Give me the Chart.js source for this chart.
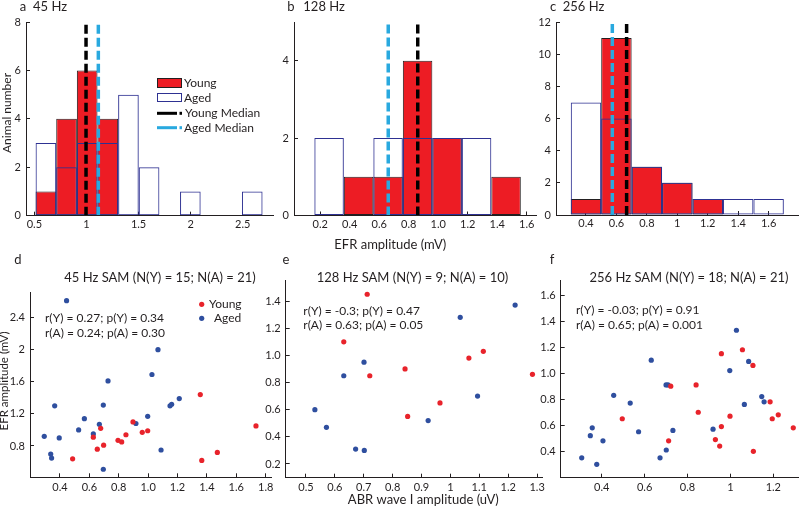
<!DOCTYPE html>
<html>
<head>
<meta charset="utf-8">
<script src="https://cdn.jsdelivr.net/npm/chart.js@4/dist/chart.umd.min.js"></script>
<style>
html, body { margin: 0; padding: 0; background: #ffffff; }
#wrap { position: relative; width: 800px; height: 512px; overflow: hidden; background: #ffffff; }
#wrap canvas { position: absolute; left: 0; top: 0; }
</style>
</head>
<body>
<div id="wrap">
  <canvas id="pa" width="800" height="512"></canvas>
  <canvas id="pb" width="800" height="512"></canvas>
  <canvas id="pc" width="800" height="512"></canvas>
  <canvas id="pd" width="800" height="512"></canvas>
  <canvas id="pe" width="800" height="512"></canvas>
  <canvas id="pf" width="800" height="512"></canvas>
</div>
<script>
// ---------------- DATA ----------------
// Panel a: 45 Hz EFR amplitude histogram (bin centres, mV) and counts
const binsA = [0.611, 0.809, 1.007, 1.205, 1.403, 1.601, 1.799, 1.997, 2.195, 2.393, 2.591];
const youngA = [1, 4, 6, 4, 0, 0, 0, 0, 0, 0, 0];
const agedA = [3, 2, 3, 3, 5, 2, 0, 1, 0, 0, 1];
const medianYoungA = 0.996;
const medianAgedA = 1.114;

// Panel b: 128 Hz
const binsB = [0.26, 0.46, 0.66, 0.86, 1.06, 1.26, 1.46];
const youngB = [0, 1, 1, 4, 2, 0, 1];
const agedB = [2, 0, 2, 2, 2, 2, 0];
const medianYoungB = 0.861;
const medianAgedB = 0.661;

// Panel c: 256 Hz
const binsC = [0.4, 0.6, 0.8, 1.0, 1.2, 1.4, 1.6];
const youngC = [1, 11, 3, 2, 1, 0, 0];
const agedC = [7, 6, 3, 2, 1, 1, 1];
const medianYoungC = 0.667;
const medianAgedC = 0.573;

// Panel d: 45 Hz SAM, ABR wave I amplitude (uV) vs EFR amplitude (mV)
const abrYoungD = [1.355, 1.734, 0.677, 0.897, 0.960, 0.997, 0.849, 0.795, 0.820, 0.627, 0.654, 0.697, 0.486, 1.365, 1.471];
const efrYoungD = [1.44, 1.05, 1.02, 1.10, 0.97, 0.99, 0.94, 0.87, 0.85, 0.91, 0.76, 0.81, 0.64, 0.62, 0.72];
const abrAgedD = [0.445, 1.067, 1.026, 0.727, 0.364, 0.695, 1.212, 1.160, 1.149, 0.997, 0.566, 0.527, 0.668, 0.627, 0.917, 0.293, 0.395, 0.337, 0.343, 1.088, 0.695];
const efrAgedD = [2.61, 2.00, 1.69, 1.61, 1.30, 1.31, 1.39, 1.32, 1.30, 1.17, 1.14, 1.00, 1.07, 0.95, 1.08, 0.92, 0.90, 0.70, 0.65, 0.75, 0.51];

// Panel e: 128 Hz SAM
const abrYoungE = [0.712, 0.631, 0.721, 0.843, 0.852, 0.964, 1.064, 1.114, 1.284];
const efrYoungE = [1.45, 1.10, 0.85, 0.90, 0.55, 0.65, 0.98, 1.03, 0.86];
const abrAgedE = [0.531, 0.571, 0.631, 0.701, 0.672, 0.702, 0.923, 1.034, 1.094, 1.224];
const efrAgedE = [0.60, 0.47, 0.85, 0.95, 0.31, 0.30, 0.52, 1.28, 0.70, 1.37];

// Panel f: 256 Hz SAM
const abrYoungF = [0.496, 0.722, 0.712, 0.840, 0.850, 0.958, 0.958, 0.930, 0.950, 0.998, 1.056, 1.105, 1.107, 1.185, 1.223, 1.195, 1.293];
const efrYoungF = [0.65, 0.90, 0.48, 0.91, 0.70, 1.15, 0.59, 0.49, 0.44, 0.67, 1.18, 1.06, 0.40, 0.78, 0.68, 0.65, 0.58];
const abrAgedF = [0.307, 0.377, 0.347, 0.356, 0.406, 0.456, 0.533, 0.572, 0.631, 0.700, 0.709, 0.732, 0.701, 0.672, 0.919, 0.997, 1.028, 1.085, 1.065, 1.146, 1.157];
const efrAgedF = [0.35, 0.30, 0.52, 0.58, 0.48, 0.83, 0.77, 0.55, 1.10, 0.91, 0.91, 0.56, 0.41, 0.35, 0.57, 1.02, 1.33, 1.09, 0.76, 0.82, 0.78];

// Tick values and labels
const ticksAx = [0.5, 1, 1.5, 2, 2.5];          const labelsAx = ['0.5', '1', '1.5', '2', '2.5'];
const ticksAy = [0, 2, 4, 6, 8];                const labelsAy = ['0', '2', '4', '6', '8'];
const ticksBx = [0.2, 0.4, 0.6, 0.8, 1.0, 1.2, 1.4, 1.6]; const labelsBx = ['0.2', '0.4', '0.6', '0.8', '1.0', '1.2', '1.4', '1.6'];
const ticksBy = [0, 2, 4];                      const labelsBy = ['0', '2', '4'];
const ticksCx = [0.4, 0.6, 0.8, 1.0, 1.2, 1.4, 1.6]; const labelsCx = ['0.4', '0.6', '0.8', '1', '1.2', '1.4', '1.6'];
const ticksCy = [0, 2, 4, 6, 8, 10, 12];        const labelsCy = ['0', '2', '4', '6', '8', '10', '12'];
const ticksDx = [0.4, 0.6, 0.8, 1.0, 1.2, 1.4, 1.6, 1.8]; const labelsDx = ['0.4', '0.6', '0.8', '1.0', '1.2', '1.4', '1.6', '1.8'];
const ticksDy = [0.8, 1.2, 1.6, 2.0, 2.4];      const labelsDy = ['0.8', '1.2', '1.6', '2', '2.4'];
const ticksEx = [0.5, 0.6, 0.7, 0.8, 0.9, 1.0, 1.1, 1.2, 1.3]; const labelsEx = ['0.5', '0.6', '0.7', '0.8', '0.9', '1', '1.1', '1.2', '1.3'];
const ticksEy = [0.2, 0.4, 0.6, 0.8, 1.0, 1.2, 1.4]; const labelsEy = ['0.2', '0.4', '0.6', '0.8', '1.0', '1.2', '1.4'];
const ticksFx = [0.4, 0.6, 0.8, 1.0, 1.2];      const labelsFx = ['0.4', '0.6', '0.8', '1', '1.2'];
const ticksFy = [0.4, 0.6, 0.8, 1.0, 1.2, 1.4, 1.6]; const labelsFy = ['0.4', '0.6', '0.8', '1.0', '1.2', '1.4', '1.6'];

// ---------------- STYLE ----------------
const FONT_FAMILY = 'Lato, "Liberation Sans", Arial, sans-serif';
const INK = '#231f20';
const RED = '#ed1c24';
const NAVY = '#2e3192';
const CYAN = '#29a9df';
const DOT_RED = '#e8232b';
const DOT_BLUE = '#2f4f9f';
const Y_AXIS_W = 26;   // width reserved for y tick labels
const X_AXIS_H = 24;   // height reserved for x tick labels

function txt(c, s, x, y, size, align, rot) {
  c.save();
  c.font = size + 'px ' + FONT_FAMILY;
  c.fillStyle = INK;
  c.textAlign = align || 'left';
  c.textBaseline = 'middle';
  c.translate(x, y);
  if (rot) c.rotate(rot);
  c.fillText(s, 0, 0);
  c.restore();
}

function overlay(id, fn) {
  return { id: id, afterDraw(chart) { const c = chart.ctx; c.save(); fn(c, chart); c.restore(); } };
}

function linAxis(axis, min, max, ticks, labels, pad) {
  return {
    type: 'linear', min: min, max: max, offset: false, bounds: 'data',
    afterFit: (s) => { if (axis === 'x') s.height = X_AXIS_H; else s.width = Y_AXIS_W; },
    afterBuildTicks: (s) => { s.ticks = ticks.map(v => ({ value: v })); },
    grid: { display: true, drawOnChartArea: false, drawTicks: true, tickLength: -4, color: INK, lineWidth: 1, offset: false },
    border: { display: true, color: INK, width: 1, z: 2 },
    ticks: { autoSkip: false, maxRotation: 0, minRotation: 0, padding: pad, color: INK,
             font: { family: FONT_FAMILY, size: 11 }, callback: (v, i) => labels[i] }
  };
}

function baseOptions(area) {
  return {
    responsive: false, animation: false, devicePixelRatio: 1, events: [],
    layout: { autoPadding: false, padding: { left: area.l - Y_AXIS_W, top: area.t, right: 800 - area.r, bottom: 512 - area.b - X_AXIS_H } },
    plugins: { legend: { display: false }, tooltip: { enabled: false }, title: { display: false } }
  };
}

function histChart(id, area, bins, young, aged, medY, medA, xr, yr, xt, xl, yt, yl, plug) {
  const pts = arr => bins.map((b, i) => ({ x: b, y: arr[i] }));
  const barCommon = { grouped: false, barPercentage: 1, categoryPercentage: 1, borderSkipped: false, inflateAmount: 0 };
  const opts = baseOptions(area);
  opts.scales = { x: linAxis('x', xr[0], xr[1], xt, xl, 6), y: linAxis('y', yr[0], yr[1], yt, yl, 9) };
  return new Chart(document.getElementById(id), {
    type: 'bar',
    data: { datasets: [
      { type: 'line', label: 'Young Median', data: [{ x: medY, y: yr[0] }, { x: medY, y: yr[1] }],
        borderColor: '#000000', borderWidth: 3.5, borderDash: [9, 4], borderCapStyle: 'butt', pointRadius: 0, fill: false },
      { type: 'line', label: 'Aged Median', data: [{ x: medA, y: yr[0] }, { x: medA, y: yr[1] }],
        borderColor: CYAN, borderWidth: 3.5, borderDash: [9, 4], borderCapStyle: 'butt', pointRadius: 0, fill: false },
      Object.assign({ label: 'Aged', data: pts(aged), backgroundColor: 'rgba(255,255,255,0)', borderColor: NAVY, borderWidth: 1 }, barCommon),
      Object.assign({ label: 'Young', data: pts(young), backgroundColor: RED, borderColor: INK, borderWidth: 1 }, barCommon)
    ] },
    options: opts,
    plugins: [plug]
  });
}

function scatterChart(id, area, xy, yy, xa, ya, xr, yr, xt, xl, yt, yl, plug) {
  const pts = (xs, ys) => xs.map((v, i) => ({ x: v, y: ys[i] }));
  const opts = baseOptions(area);
  opts.scales = { x: linAxis('x', xr[0], xr[1], xt, xl, 7.5), y: linAxis('y', yr[0], yr[1], yt, yl, 9) };
  return new Chart(document.getElementById(id), {
    type: 'scatter',
    data: { datasets: [
      { label: 'Young', data: pts(xy, yy), pointRadius: 2.6, pointBorderWidth: 0, pointBackgroundColor: DOT_RED, backgroundColor: DOT_RED, borderColor: DOT_RED },
      { label: 'Aged', data: pts(xa, ya), pointRadius: 2.6, pointBorderWidth: 0, pointBackgroundColor: DOT_BLUE, backgroundColor: DOT_BLUE, borderColor: DOT_BLUE }
    ] },
    options: opts,
    plugins: [plug]
  });
}

// ---------------- PANELS ----------------
histChart('pa', { l: 26, t: 22, r: 273, b: 215.7 }, binsA, youngA, agedA, medianYoungA, medianAgedA,
  [0.42, 2.79], [0, 8], ticksAx, labelsAx, ticksAy, labelsAy,
  overlay('ovA', (c) => {
    txt(c, 'a', 23, 7, 13, 'center');
    txt(c, '45 Hz', 33, 7, 13, 'left');
    txt(c, 'Animal number', 7, 113, 12, 'center', -Math.PI / 2);
    // legend
    c.fillStyle = RED; c.fillRect(157, 78, 25, 10);
    c.strokeStyle = INK; c.lineWidth = 1; c.strokeRect(157.5, 78.5, 24, 9);
    c.strokeStyle = NAVY; c.strokeRect(157.5, 93.5, 24, 8);
    c.fillStyle = '#000000'; c.fillRect(157, 111.8, 20, 3); c.fillRect(179.5, 111.8, 2.5, 3);
    c.fillStyle = CYAN; c.fillRect(157, 126.2, 20, 3); c.fillRect(179.5, 126.2, 2.5, 3);
    txt(c, 'Young', 184, 83, 12);
    txt(c, 'Aged', 184, 97.8, 12);
    txt(c, 'Young Median', 185, 113.3, 12);
    txt(c, 'Aged Median', 184, 127.7, 12);
  }));

histChart('pb', { l: 294, t: 22, r: 536, b: 215.5 }, binsB, youngB, agedB, medianYoungB, medianAgedB,
  [0.022, 1.663], [0, 5], ticksBx, labelsBx, ticksBy, labelsBy,
  overlay('ovB', (c) => {
    txt(c, 'b', 291, 7, 13, 'center');
    txt(c, '128 Hz', 303.3, 7, 13, 'left');
    txt(c, 'EFR amplitude (mV)', 390.3, 245, 13, 'center');
  }));

histChart('pc', { l: 556, t: 22, r: 798, b: 215 }, binsC, youngC, agedC, medianYoungC, medianAgedC,
  [0.203, 1.793], [0, 12], ticksCx, labelsCx, ticksCy, labelsCy,
  overlay('ovC', (c) => {
    txt(c, 'c', 553, 7, 13, 'center');
    txt(c, '256 Hz', 562.7, 7, 13, 'left');
  }));

scatterChart('pd', { l: 30, t: 292.7, r: 271.7, b: 477.3 }, abrYoungD, efrYoungD, abrAgedD, efrAgedD,
  [0.196, 1.841], [0.41, 2.709], ticksDx, labelsDx, ticksDy, labelsDy,
  overlay('ovD', (c) => {
    txt(c, 'd', 18, 260, 13, 'center');
    txt(c, '45 Hz SAM (N(Y) = 15; N(A) = 21)', 160, 278, 13, 'center');
    txt(c, 'EFR amplitude (mV)', 4.5, 381, 11.5, 'center', -Math.PI / 2);
    txt(c, 'r(Y) = 0.27; p(Y) = 0.34', 45, 318.3, 12);
    txt(c, 'r(A) = 0.24; p(A) = 0.30', 45, 332.7, 12);
    c.fillStyle = DOT_RED; c.beginPath(); c.arc(201.7, 304.3, 2.6, 0, Math.PI * 2); c.fill();
    c.fillStyle = DOT_BLUE; c.beginPath(); c.arc(201.7, 318.3, 2.6, 0, Math.PI * 2); c.fill();
    txt(c, 'Young', 209, 304.3, 12);
    txt(c, 'Aged', 214, 318.3, 12);
  }));

scatterChart('pe', { l: 285.7, t: 280, r: 542, b: 477.7 }, abrYoungE, efrYoungE, abrAgedE, efrAgedE,
  [0.43, 1.317], [0.099, 1.555], ticksEx, labelsEx, ticksEy, labelsEy,
  overlay('ovE', (c) => {
    txt(c, 'e', 286, 260, 13, 'center');
    txt(c, '128 Hz SAM (N(Y) = 9; N(A) = 10)', 412.5, 278, 13, 'center');
    txt(c, 'r(Y) = -0.3; p(Y) = 0.47', 303.3, 311, 12);
    txt(c, 'r(A) = 0.63; p(A) = 0.05', 303.3, 325, 12);
    txt(c, 'ABR wave I amplitude (uV)', 423.3, 499.5, 13, 'center');
  }));

scatterChart('pf', { l: 560.7, t: 280, r: 798, b: 477.7 }, abrYoungF, efrYoungF, abrAgedF, efrAgedF,
  [0.209, 1.315], [0.197, 1.716], ticksFx, labelsFx, ticksFy, labelsFy,
  overlay('ovF', (c) => {
    txt(c, 'f', 552, 260, 13, 'center');
    txt(c, '256 Hz SAM (N(Y) = 18; N(A) = 21)', 689, 278, 13, 'center');
    txt(c, 'r(Y) = -0.03; p(Y) = 0.91', 576, 310, 12);
    txt(c, 'r(A) = 0.65; p(A) = 0.001', 576, 325, 12);
  }));
</script>
</body>
</html>
